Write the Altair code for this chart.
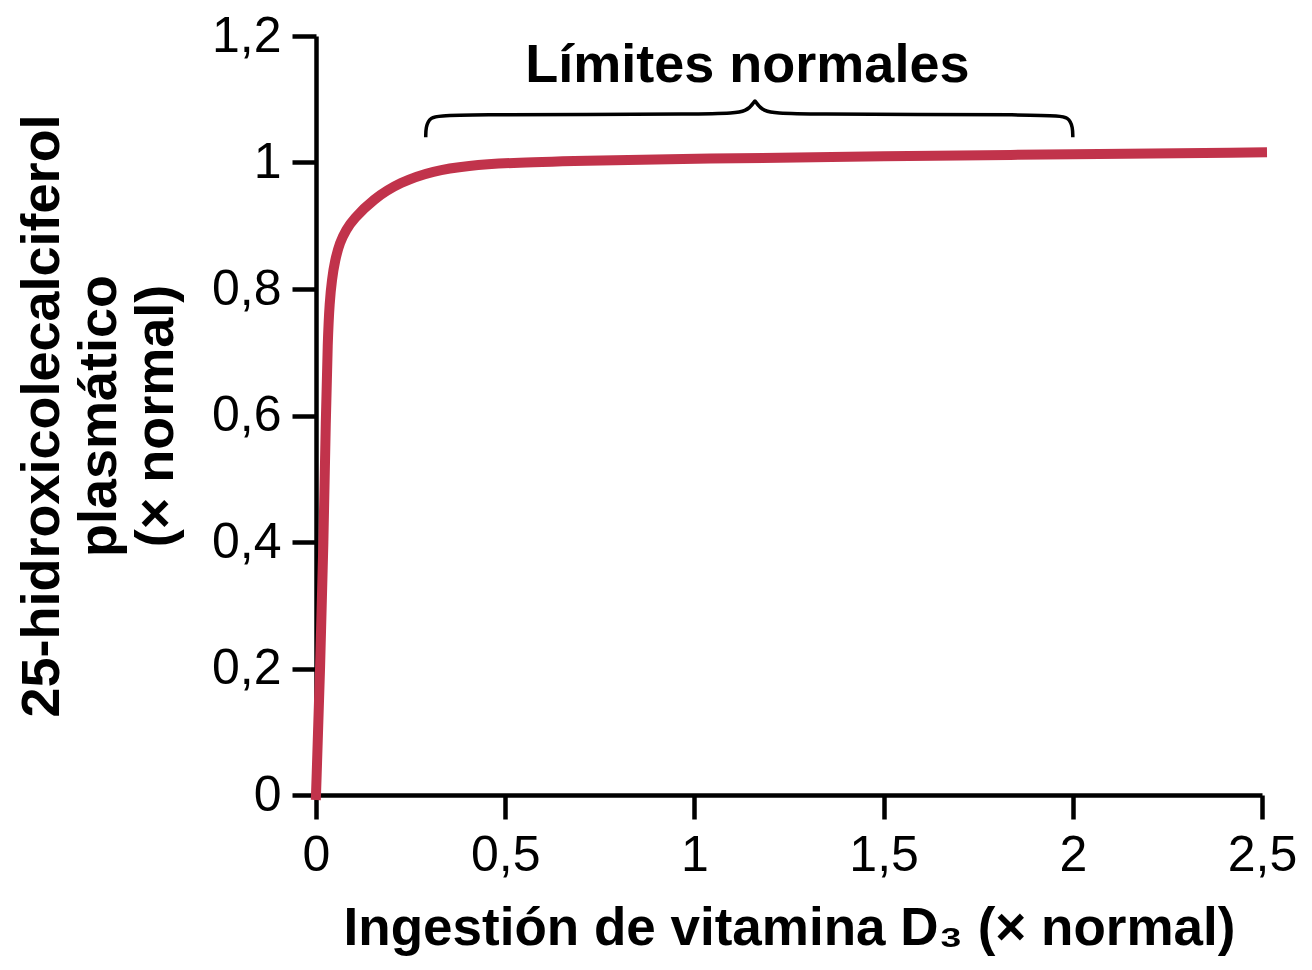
import altair as alt
import pandas as pd

# Curve: plasma 25-hydroxycholecalciferol vs vitamin D3 intake (both × normal)
vit_x = [0, 0.011, 0.02, 0.026, 0.031, 0.036, 0.042, 0.05, 0.063, 0.08, 0.098, 0.151, 0.222, 0.31, 0.40, 0.52, 0.75, 1.0, 1.5, 2.0, 2.5]
hydroxy_y = [0, 0.2, 0.4, 0.6, 0.72, 0.78, 0.815, 0.845, 0.874, 0.894, 0.910, 0.942, 0.969, 0.987, 0.995, 1.0, 1.003, 1.006, 1.010, 1.013, 1.016]

# Brace annotation ("Límites normales" ≈ 0.29 .. 2.0)
brace_x = [0.29, 0.29, 0.30, 0.34, 1.08, 1.14, 1.16, 1.16, 1.18, 1.24, 1.95, 1.99, 2.0, 2.0]
brace_y = [1.040, 1.055, 1.072, 1.076, 1.076, 1.080, 1.098, 1.098, 1.080, 1.076, 1.076, 1.072, 1.055, 1.040]

label_text = ["Límites normales"]
label_x = [1.14]
label_y = [1.127]

x_ticks = [0, 0.5, 1, 1.5, 2, 2.5]
y_ticks = [0, 0.2, 0.4, 0.6, 0.8, 1.0, 1.2]

FONT = "Liberation Sans"
label_expr = "replace(format(datum.value, '~g'), '.', ',')"

xs = alt.Scale(domain=[0, 2.5], nice=False, zero=False)
ys = alt.Scale(domain=[0, 1.2], nice=False)

common = dict(
    labelExpr=label_expr, labelFlush=False, grid=False,
    domainColor="black", domainWidth=4.5, tickColor="black", tickWidth=4.5, tickSize=24,
    labelFont=FONT, labelFontSize=50, labelColor="black", labelPadding=11,
    titleFont=FONT, titleFontWeight="bold", titleColor="black",
)
x_axis = alt.Axis(values=x_ticks, title="Ingestión de vitamina D₃ (× normal)",
                  titleFontSize=53, titlePadding=22, **common)
y_axis = alt.Axis(values=y_ticks,
                  title=["25-hidroxicolecalciferol", "plasmático", "(× normal)"],
                  titleFontSize=54, titleLineHeight=57, titlePadding=28, **common)

curve_df = pd.DataFrame({"x": vit_x, "y": hydroxy_y})
brace_df = pd.DataFrame({"x": brace_x, "y": brace_y, "i": list(range(len(brace_x)))})
label_df = pd.DataFrame({"x": label_x, "y": label_y, "t": label_text})

curve = alt.Chart(curve_df).mark_line(
    color="#C1334B", strokeWidth=10, interpolate="basis", strokeCap="square"
).encode(
    x=alt.X("x:Q", scale=xs, axis=x_axis),
    y=alt.Y("y:Q", scale=ys, axis=y_axis),
)

brace = alt.Chart(brace_df).mark_line(
    color="black", strokeWidth=3.5, interpolate="basis"
).encode(
    x=alt.X("x:Q", scale=xs, axis=x_axis),
    y=alt.Y("y:Q", scale=ys, axis=y_axis),
    order="i:Q",
)

label = alt.Chart(label_df).mark_text(
    font=FONT, fontSize=54, fontWeight="bold", color="black",
    align="center", baseline="alphabetic"
).encode(
    x=alt.X("x:Q", scale=xs, axis=x_axis),
    y=alt.Y("y:Q", scale=ys, axis=y_axis),
    text="t:N",
)

chart = alt.layer(curve, brace, label).properties(
    width=946, height=759,
    autosize=alt.AutoSizeParams(type="none"),
    padding={"left": 308, "top": 28, "right": 40, "bottom": 163},
    background="white",
).configure_view(stroke=None)

chart.save("out.html", embed_options={"renderer": "svg", "actions": False})
